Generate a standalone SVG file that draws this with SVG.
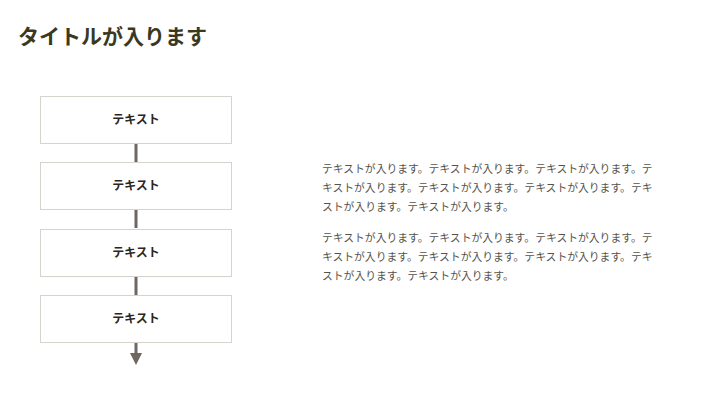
<svg xmlns="http://www.w3.org/2000/svg" width="720" height="405" viewBox="0 0 720 405">
<style>
.box{fill:#fff;stroke:#d6d3cc;stroke-width:1}
.lbl{font-family:"Noto Sans CJK JP",sans-serif;font-size:12px;font-weight:bold;fill:#2a2620;text-anchor:middle;dominant-baseline:central}
.body{font-family:"Noto Sans CJK JP",sans-serif;font-size:10.8px;fill:#55524b}
.title{font-family:"Noto Sans CJK JP",sans-serif;font-size:21px;font-weight:bold;fill:#3b3822}
.con{stroke:#6e6660;stroke-width:3;fill:none}
</style>
<defs>
<marker id="ah" markerWidth="4" markerHeight="4" refX="2" refY="2" orient="auto" markerUnits="strokeWidth">
<path d="M0,0 L4,2 L0,4 z" fill="#6e6660"/>
</marker>
</defs>
<rect width="720" height="405" fill="#fff"/>
<text class="title" x="18" y="44">タイトルが入ります</text>
<g id="connectors">
<line class="con" x1="136" y1="144" x2="136" y2="162"/>
<line class="con" x1="136" y1="210" x2="136" y2="228"/>
<line class="con" x1="136" y1="277" x2="136" y2="295"/>
<line class="con" x1="136" y1="343" x2="136" y2="359" marker-end="url(#ah)"/>
</g>
<g id="node1"><rect class="box" x="40.5" y="96.5" width="191" height="47"/><text class="lbl" x="136" y="118">テキスト</text></g>
<g id="node2"><rect class="box" x="40.5" y="162.5" width="191" height="47"/><text class="lbl" x="136" y="184">テキスト</text></g>
<g id="node3"><rect class="box" x="40.5" y="229.5" width="191" height="47"/><text class="lbl" x="136" y="251">テキスト</text></g>
<g id="node4"><rect class="box" x="40.5" y="295.5" width="191" height="47"/><text class="lbl" x="136" y="317">テキスト</text></g>
<g id="text">
<text class="body" x="322" y="173">テキストが入ります。テキストが入ります。テキストが入ります。テ</text>
<text class="body" x="322" y="192">キストが入ります。テキストが入ります。テキストが入ります。テキ</text>
<text class="body" x="322" y="211">ストが入ります。テキストが入ります。</text>
<text class="body" x="322" y="242">テキストが入ります。テキストが入ります。テキストが入ります。テ</text>
<text class="body" x="322" y="261">キストが入ります。テキストが入ります。テキストが入ります。テキ</text>
<text class="body" x="322" y="280">ストが入ります。テキストが入ります。</text>
</g>
</svg>
